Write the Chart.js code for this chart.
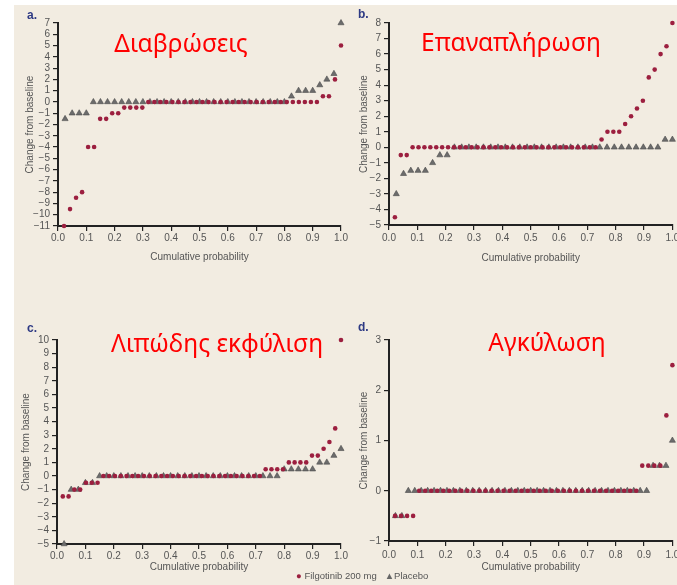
<!DOCTYPE html>
<html>
<head>
<meta charset="utf-8">
<script src="https://cdn.jsdelivr.net/npm/chart.js@4/dist/chart.umd.min.js"></script>
<style>
  body { margin: 0; width: 677px; height: 585px; overflow: hidden; position: relative; background: #fff;
         font-family: "Liberation Sans", Arial, sans-serif; }
  #bg { position: absolute; left: 14px; top: 5px; right: 0; bottom: 0; background: #f2ece1; }
  canvas { position: absolute; }
  .tag { position: absolute; font-weight: bold; color: #2e3a84; font-size: 12px; line-height: 1; }
  .ttl { position: absolute; color: #ff0000; font-family: "Noto Sans", sans-serif; font-size: 24.5px;
         line-height: 1; white-space: nowrap; transform: translateX(-50%); }
  #legend { position: absolute; left: 296px; top: 571px; font-size: 9.5px; color: #555; line-height: 1; white-space: nowrap; }
</style>
</head>
<body>
<div id="bg"></div>
<canvas id="pa" width="340" height="268" style="left:14px;top:5px"></canvas>
<canvas id="pb" width="332" height="268" style="left:345px;top:5px"></canvas>
<canvas id="pc" width="340" height="290" style="left:14px;top:290px"></canvas>
<canvas id="pd" width="332" height="290" style="left:345px;top:290px"></canvas>

<div class="tag" style="left:27px;top:9px">a.</div>
<div class="tag" style="left:358px;top:8px">b.</div>
<div class="tag" style="left:27px;top:322px">c.</div>
<div class="tag" style="left:358px;top:321px">d.</div>

<div class="ttl" style="left:181px;top:31px">Διαβρώσεις</div>
<div class="ttl" style="left:511px;top:30px">Επαναπλήρωση</div>
<div class="ttl" style="left:217px;top:331px">Λιπώδης εκφύλιση</div>
<div class="ttl" style="left:547px;top:330px">Αγκύλωση</div>

<div id="legend"><span style="color:#9c1f3f">●</span> Filgotinib 200 mg &nbsp;&nbsp;<span style="color:#666">▲</span>Placebo</div>

<script>
// sorted change-from-baseline values, one point per patient
const aFilgotinib = [-11, -9.5, -8.5, -8, -4, -4, -1.5, -1.5, -1, -1, -0.5, -0.5, -0.5, -0.5,
  0, 0, 0, 0, 0, 0, 0, 0, 0, 0,
  0, 0, 0, 0, 0, 0, 0, 0, 0, 0,
  0, 0, 0, 0, 0, 0, 0, 0, 0,
  0.5, 0.5, 2, 5];
const aPlacebo = [-1.5, -1, -1, -1,
  0, 0, 0, 0, 0, 0, 0, 0, 0, 0,
  0, 0, 0, 0, 0, 0, 0, 0, 0, 0,
  0, 0, 0, 0, 0, 0, 0, 0,
  0.5, 1, 1, 1, 1.5, 2, 2.5, 7];

const bFilgotinib = [-4.5, -0.5, -0.5,
  0, 0, 0, 0, 0, 0, 0, 0, 0, 0,
  0, 0, 0, 0, 0, 0, 0, 0, 0, 0,
  0, 0, 0, 0, 0, 0, 0, 0, 0, 0,
  0, 0,
  0.5, 1, 1, 1, 1.5, 2, 2.5, 3, 4.5, 5, 6, 6.5, 8];
const bPlacebo = [-3, -1.7, -1.5, -1.5, -1.5, -1, -0.5, -0.5,
  0, 0, 0, 0, 0, 0, 0, 0, 0, 0,
  0, 0, 0, 0, 0, 0, 0, 0, 0, 0,
  0, 0, 0, 0, 0, 0, 0, 0, 0,
  0.5, 0.5];

const cFilgotinib = [-1.5, -1.5, -1, -1, -0.5, -0.5, -0.5,
  0, 0, 0, 0, 0, 0, 0, 0, 0, 0,
  0, 0, 0, 0, 0, 0, 0, 0, 0, 0,
  0, 0, 0, 0, 0, 0, 0, 0,
  0.5, 0.5, 0.5, 0.5, 1, 1, 1, 1, 1.5, 1.5, 2, 2.5, 3.5, 10];
const cPlacebo = [-5, -1, -1, -0.5, -0.5,
  0, 0, 0, 0, 0, 0, 0, 0, 0, 0,
  0, 0, 0, 0, 0, 0, 0, 0, 0, 0,
  0, 0, 0, 0, 0, 0,
  0.5, 0.5, 0.5, 0.5, 0.5, 1, 1, 1.5, 2];

const dFilgotinib = [-0.5, -0.5, -0.5, -0.5,
  0, 0, 0, 0, 0, 0, 0, 0, 0, 0,
  0, 0, 0, 0, 0, 0, 0, 0, 0, 0,
  0, 0, 0, 0, 0, 0, 0, 0, 0, 0,
  0, 0, 0, 0, 0, 0, 0,
  0.5, 0.5, 0.5, 0.5, 1.5, 2.5];
const dPlacebo = [-0.5, -0.5,
  0, 0, 0, 0, 0, 0, 0, 0, 0, 0,
  0, 0, 0, 0, 0, 0, 0, 0, 0, 0,
  0, 0, 0, 0, 0, 0, 0, 0, 0, 0,
  0, 0, 0, 0, 0, 0, 0, 0,
  0.5, 0.5, 0.5, 1];

// axis ranges
const aRange = [-11, 7];
const bRange = [-5, 8];
const cRange = [-5, 10];
const dRange = [-1, 3];

const RED = '#9c1f3f';
const GREY = '#6c6c6c';
const INK = '#222';
const LABEL = '#555';
const FONT = '"Liberation Sans", Arial, sans-serif';

// cumulative probability = rank / n
function toPoints(vals) {
  return vals.map((v, i) => ({ x: (i + 1) / vals.length, y: v }));
}

function minus(v) {
  return v < 0 ? '\u2212' + Math.abs(v) : String(v);
}

function makePanel(id, fil, pla, range, L) {
  new Chart(document.getElementById(id), {
    type: 'scatter',
    data: {
      datasets: [
        { label: 'Filgotinib 200 mg', data: toPoints(fil), pointStyle: 'circle', pointRadius: 2.3,
          backgroundColor: RED, borderColor: RED, borderWidth: 0, clip: false },
        { label: 'Placebo', data: toPoints(pla), pointStyle: 'triangle', pointRadius: 3.5,
          backgroundColor: GREY, borderColor: '#4a4a4a', borderWidth: 0.6, clip: false }
      ]
    },
    options: {
      responsive: false,
      animation: false,
      events: [],
      layout: { padding: { top: L.top, right: L.right, left: 0, bottom: 0 } },
      plugins: { legend: { display: false }, tooltip: { enabled: false } },
      scales: {
        x: {
          type: 'linear', min: 0, max: 1,
          afterFit: s => { s.height = L.xh; s.paddingLeft = 0; s.paddingRight = 0; },
          border: { display: true, color: INK, width: 2 },
          grid: { drawOnChartArea: false, drawTicks: true, tickLength: 5, color: INK, lineWidth: 1.2 },
          ticks: { stepSize: 0.1, autoSkip: false, maxRotation: 0, padding: L.xpad, color: LABEL,
                   font: { family: FONT, size: 10 }, callback: v => v.toFixed(1) },
          title: { display: true, text: 'Cumulative probability', color: LABEL,
                   font: { family: FONT, size: 10 }, padding: { top: 0, bottom: L.xtitle } }
        },
        y: {
          type: 'linear', min: range[0], max: range[1],
          afterFit: s => { s.width = L.yw; s.paddingTop = 0; s.paddingBottom = 0; },
          border: { display: true, color: INK, width: 2 },
          grid: { drawOnChartArea: false, drawTicks: true, tickLength: 5, color: INK, lineWidth: 1.2 },
          ticks: { stepSize: 1, autoSkip: false, padding: 3, color: LABEL,
                   font: { family: FONT, size: 10 }, callback: v => minus(v) },
          title: { display: true, text: 'Change from baseline', color: LABEL,
                   font: { family: FONT, size: 10 }, padding: { top: L.ytitle, bottom: 0 } }
        }
      }
    }
  });
}

makePanel('pa', aFilgotinib, aPlacebo, aRange, { top: 18, right: 13, xh: 47, yw: 44, xpad: 1, xtitle: 10, ytitle: 10 });
makePanel('pb', bFilgotinib, bPlacebo, bRange, { top: 18, right: 3, xh: 48, yw: 44, xpad: 2, xtitle: 9, ytitle: 13 });
makePanel('pc', cFilgotinib, cPlacebo, cRange, { top: 50, right: 13, xh: 36, yw: 43, xpad: 1, xtitle: 7, ytitle: 6 });
makePanel('pd', dFilgotinib, dPlacebo, dRange, { top: 50, right: 1, xh: 39, yw: 44, xpad: 3, xtitle: 7, ytitle: 13 });
</script>
</body>
</html>
